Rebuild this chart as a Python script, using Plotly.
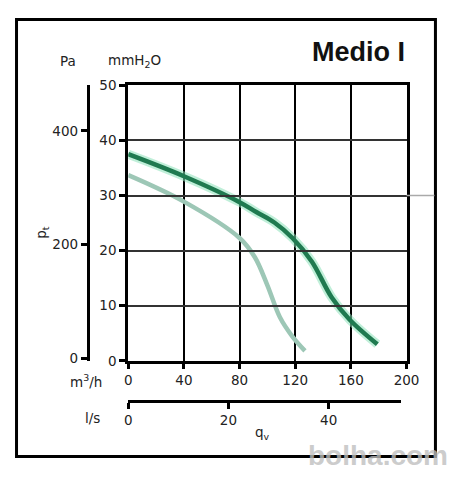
import plotly.graph_objects as go

# Kennlinie Medio I : Volumenstrom (m3/h) / Druck (mmH2O)
q_hi = [0, 40, 80, 92, 105, 118, 132, 146, 159, 179]
p_hi = [37.5, 33.5, 28.8, 27.0, 25.1, 22.3, 18.0, 11.6, 7.5, 3.0]

q_lo = [0, 40, 80, 91, 100, 109, 118, 127]
p_lo = [33.7, 28.9, 22.3, 18.8, 13.7, 7.9, 4.4, 1.8]

ticks_mm = [0, 10, 20, 30, 40, 50]
ticks_m3h = [0, 40, 80, 120, 160, 200]
ticks_pa = [0, 200, 400]
ticks_ls = [0, 20, 40]

W, H = 460, 480
font = dict(family="DejaVu Sans, sans-serif", size=13.5, color="#222")

def px_x(p):
    return p / W

def px_y(p):
    return 1 - p / H

fig = go.Figure()

# glow under the dark curve
fig.add_trace(go.Scatter(x=q_hi, y=p_hi, mode="lines", line=dict(color="rgba(140,225,185,0.55)", width=9, shape="spline"),
                         hoverinfo="skip", showlegend=False))
fig.add_trace(go.Scatter(x=q_hi, y=p_hi, mode="lines", line=dict(color="#1f7a50", width=4.5, shape="spline"),
                         showlegend=False))
fig.add_trace(go.Scatter(x=q_lo, y=p_lo, mode="lines", line=dict(color="#9dc7b6", width=4.5, shape="spline"),
                         showlegend=False))
# empty traces so the extra axes exist
fig.add_trace(go.Scatter(x=[], y=[], xaxis="x", yaxis="y2", showlegend=False))
fig.add_trace(go.Scatter(x=[], y=[], xaxis="x2", yaxis="y", showlegend=False))

dom_x = [px_x(129), px_x(418)]
dom_y = [px_y(365), px_y(80)]

fig.update_layout(
    width=W, height=H,
    margin=dict(l=0, r=0, t=0, b=0),
    paper_bgcolor="white", plot_bgcolor="rgba(0,0,0,0)",
    font=font,
    xaxis=dict(domain=dom_x, range=[0, 200], tickvals=ticks_m3h, showgrid=True, gridcolor="black", gridwidth=2,
               zeroline=False, showline=True, linecolor="black", linewidth=3, mirror=True,
               ticks="outside", ticklen=5, tickwidth=2.5, tickcolor="black", anchor="y"),
    yaxis=dict(domain=dom_y, range=[0, 50], tickvals=ticks_mm, showgrid=True, gridcolor="#333", gridwidth=2,
               zeroline=False, showline=True, linecolor="black", linewidth=3, mirror=True,
               ticks="outside", ticklen=6, tickwidth=3, tickcolor="black", anchor="x"),
    yaxis2=dict(overlaying="y", anchor="free", position=px_x(87), side="left", range=[-4, 480],
                tickvals=ticks_pa, showgrid=False, zeroline=False, showline=True, linecolor="black",
                linewidth=3, ticks="outside", ticklen=6, tickwidth=3, tickcolor="black"),
    xaxis2=dict(domain=[px_x(129), px_x(412)], anchor="free", position=px_y(407), side="bottom",
                range=[0, 54.4], tickvals=ticks_ls, showgrid=False, zeroline=False, showline=True,
                linecolor="black", linewidth=2.5, ticks="outside", ticklen=6, tickwidth=2.5, tickcolor="black"),
)

anns = [
    dict(x=px_x(66), y=px_y(55), text="Pa"),
    dict(x=px_x(136), y=px_y(55), text="mmH<sub>2</sub>O"),
    dict(x=px_x(85), y=px_y(386), text="m<sup>3</sup>/h"),
    dict(x=px_x(92), y=px_y(424), text="l/s"),
    dict(x=px_x(268), y=px_y(440), text="q<sub>v</sub>"),
    dict(x=px_x(40), y=px_y(232), text="p<sub>t</sub>", textangle=-90),
    dict(x=px_x(368), y=px_y(45), text="<b>Medio I</b>",
         font=dict(family="Liberation Sans, Arial, sans-serif", size=27, color="#111")),
    dict(x=px_x(388), y=px_y(463), text="<b>bolha.com</b>",
         font=dict(family="Liberation Sans, Arial, sans-serif", size=28, color="rgba(190,190,190,0.8)")),
]
for a in anns:
    a.update(xref="paper", yref="paper", showarrow=False, xanchor="center", yanchor="middle")
    fig.add_annotation(**a)

fig.add_shape(type="rect", xref="paper", yref="paper", x0=px_x(13), x1=px_x(448), y0=px_y(464), y1=px_y(12),
              line=dict(color="black", width=3))
fig.add_shape(type="line", xref="paper", yref="y", x0=px_x(418), x1=px_x(447), y0=30, y1=30,
              line=dict(color="#aaa", width=1.5))

# no body margin, so the figure fills the window exactly
fig.write_html("out.html", config={"displayModeBar": False},
               post_script="document.body.style.margin='0';")
